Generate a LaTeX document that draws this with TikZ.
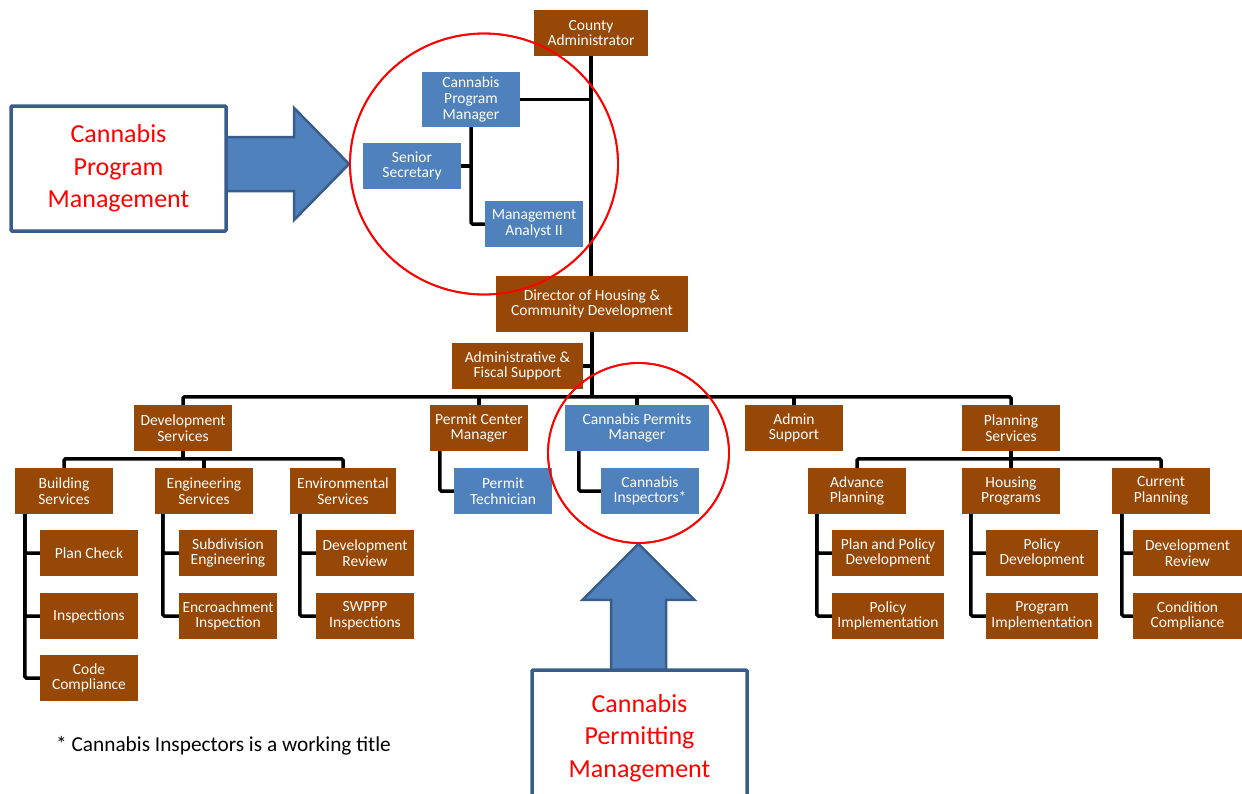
\documentclass[tikz,border=0pt]{standalone}
\usepackage{fontspec}
\setmainfont{Carlito}
\usetikzlibrary{shapes.geometric}
\definecolor{brn}{HTML}{974706}
\definecolor{blu}{HTML}{4F81BD}
\definecolor{dblu}{HTML}{385D8A}

\begin{document}
\begin{tikzpicture}[x=1pt,y=-1pt,
    box/.style={inner sep=1pt,minimum width=98,minimum height=46,align=center,text=white,
      font=\fontsize{15.5}{15.7}\selectfont},
    br/.style={box,fill=brn},
    bl/.style={box,fill=blu},
    link/.style={line width=3.5pt,rounded corners=1.5pt},
    ring/.style={draw=red,line width=1.8pt,ellipse,inner sep=0pt},
    callout/.style={draw=dblu,line width=3.5pt,fill=white,text=red,align=center,
      rounded corners=1pt,font=\fontsize{26}{32.5}\selectfont},
    barrow/.style={fill=blu,draw=dblu,line width=2.5pt,line join=miter}]
  \useasboundingbox (0,0) rectangle (1242,793);

  % top of the chart
  \node[br,minimum width=114] (county) at (591,33) {County\\Administrator};
  \node[bl,minimum height=55] (cpm) at (471,99.5) {Cannabis\\Program\\Manager};
  \node[bl] (sec) at (412,166) {Senior\\Secretary};
  \node[bl] (mgmt) at (534,224) {Management\\Analyst II};
  \node[br,minimum width=192,minimum height=56] (director) at (592,304) {Director of Housing \&\\Community Development};
  \node[br,minimum width=131] (afs) at (517.5,366) {Administrative \&\\Fiscal Support};
  \coordinate (hub) at (592,397);

  % divisions
  \node[br] (devsvc) at (183,428) {Development\\Services};
  \node[br] (pcm) at (479,428) {Permit Center\\Manager};
  \node[bl,minimum width=144] (cpermm) at (637,428) {Cannabis Permits\\Manager};
  \node[br] (adminsup) at (794,428) {Admin\\Support};
  \node[br] (plansvc) at (1011,428) {Planning\\Services};

  \node[br] (bldg) at (64,491) {Building\\Services};
  \node[br] (engsvc) at (204,491) {Engineering\\Services};
  \node[br,minimum width=106] (envsvc) at (343,491) {Environmental\\Services};
  \node[bl] (ptech) at (503,491) {Permit\\Technician};
  \node[bl] (cinsp) at (650,491) {Cannabis\\Inspectors*};
  \node[br] (advplan) at (857,491) {Advance\\Planning};
  \node[br] (housing) at (1011,491) {Housing\\Programs};
  \node[br] (curplan) at (1161,491) {Current\\Planning};

  \node[br] (plancheck) at (89,553) {Plan Check};
  \node[br] (insp) at (89,616) {Inspections};
  \node[br] (codec) at (89,678) {Code\\Compliance};
  \node[br] (subdiv) at (228,553) {Subdivision\\Engineering};
  \node[br] (encroach) at (228,616) {Encroachment\\Inspection};
  \node[br] (devrev) at (365,553) {Development\\Review};
  \node[br] (swppp) at (365,616) {SWPPP\\Inspections};
  \node[br,minimum width=112] (planpol) at (888,553) {Plan and Policy\\Development};
  \node[br,minimum width=112] (polimp) at (888,616) {Policy\\Implementation};
  \node[br,minimum width=112] (poldev) at (1042,553) {Policy\\Development};
  \node[br,minimum width=112] (progimp) at (1042,616) {Program\\Implementation};
  \node[br,minimum width=109] (devrevb) at (1187.5,553) {Development\\Review};
  \node[br,minimum width=109] (condcomp) at (1187.5,616) {Condition\\Compliance};

  % lines
  \draw[link] (county.south) -- (county.south |- director.north);
  \draw[link] (cpm.east) -- (cpm.east -| county.south);
  \draw[link] (cpm.south) |- (mgmt.west);
  \draw[link] (sec.east) -- (sec.east -| cpm.south);
  \draw[link] (director.south) -- (hub);
  \draw[link] (afs.east) -- (afs.east -| director.south);
  \draw[link] (devsvc.north) -- ++(0,-8) -| (plansvc.north);
  \foreach \n in {pcm,cpermm,adminsup}
    \draw[link] (\n.north) -- ++(0,-8);

  \draw[link] (devsvc.south) -- ++(0,8);
  \draw[link] (bldg.north) -- ++(0,-9) -| (envsvc.north);
  \draw[link] (engsvc.north) -- ++(0,-9);
  \draw[link] (plansvc.south) -- ++(0,8);
  \draw[link] (advplan.north) -- ++(0,-9) -| (curplan.north);
  \draw[link] (housing.north) -- ++(0,-9);

  \foreach \p/\c/\s in {bldg/plancheck/10,bldg/insp/10,bldg/codec/10,
      engsvc/subdiv/8,engsvc/encroach/8,envsvc/devrev/10,envsvc/swppp/10,
      pcm/ptech/10,cpermm/cinsp/14,
      advplan/planpol/9,advplan/polimp/9,housing/poldev/9,housing/progimp/9,
      curplan/devrevb/10,curplan/condcomp/10}
    \draw[link] ([xshift=\s]\p.south west) |- (\c.west);

  % call-outs
  \node[ring,minimum width=268,minimum height=261] (circA) at (484,164) {};
  \node[ring,minimum width=181,minimum height=180] (circB) at (638.5,453) {};

  \draw[barrow] (circA.west) -- ([xshift=-55,yshift=-56]circA.west) -- ([xshift=-55,yshift=-27]circA.west)
    -- ([xshift=-130,yshift=-27]circA.west) -- ([xshift=-130,yshift=27]circA.west)
    -- ([xshift=-55,yshift=27]circA.west) -- ([xshift=-55,yshift=56]circA.west) -- cycle;
  \draw[barrow] (circB.south) -- ([xshift=56,yshift=-56]circB.south) -- ([xshift=27.5,yshift=-56]circB.south)
    -- ([xshift=27.5,yshift=-140]circB.south) -- ([xshift=-27.5,yshift=-140]circB.south)
    -- ([xshift=-27.5,yshift=-56]circB.south) -- ([xshift=-56,yshift=-56]circB.south) -- cycle;

  \node[callout,minimum width=215,minimum height=125] (callA) at (118.5,168.5) {Cannabis\\Program\\Management};
  \node[callout,minimum width=215,minimum height=136] (callB) at (639.5,738) {Cannabis\\Permitting\\Management};

  \node[ring,minimum width=268,minimum height=261] at (circA) {};
  \node[ring,minimum width=181,minimum height=180] at (circB) {};

  \node[anchor=west,inner sep=0pt,font=\fontsize{21.3}{25}\selectfont] (note) at (56,746)
    {* Cannabis Inspectors is a working title};
\end{tikzpicture}
\end{document}
